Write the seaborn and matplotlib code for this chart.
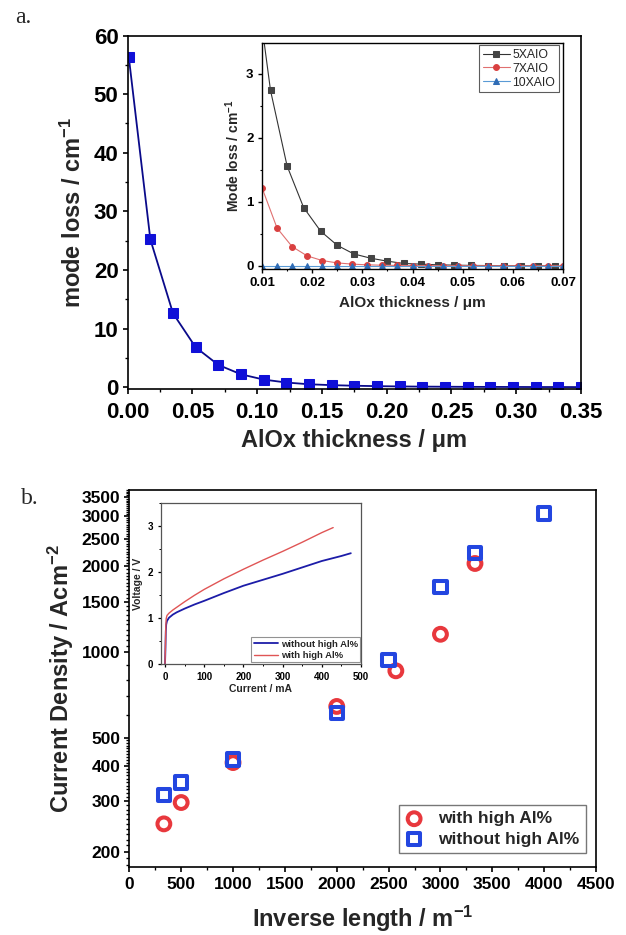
import numpy as np
import pandas as pd
import matplotlib
matplotlib.use("Agg")
import matplotlib.pyplot as plt
from matplotlib.ticker import MultipleLocator, FixedLocator, NullFormatter
import seaborn as sns

# ---- panel a: mode loss vs AlOx thickness ----
thick_main = [0.0008, 0.0175, 0.035, 0.0525, 0.07, 0.0875, 0.105, 0.1225, 0.14, 0.1575,
              0.175, 0.1925, 0.21, 0.2275, 0.245, 0.2625, 0.28, 0.2975, 0.315, 0.3325, 0.35]
loss_main = [56.4, 25.2, 12.6, 6.8, 3.8, 2.2, 1.3, 0.8, 0.5, 0.35,
             0.25, 0.18, 0.13, 0.1, 0.08, 0.06, 0.05, 0.04, 0.03, 0.03, 0.02]

# inset a
thick_5 = [0.0083, 0.0117, 0.015, 0.0183, 0.0217, 0.025, 0.0283, 0.0317, 0.035, 0.0383,
           0.0417, 0.045, 0.0483, 0.0517, 0.055, 0.0583, 0.0617, 0.065, 0.0683]
loss_5 = [4.75, 2.74, 1.56, 0.91, 0.54, 0.32, 0.185, 0.118, 0.072, 0.036,
          0.026, 0.015, 0.01, 0.006, 0.004, 0.003, 0.002, 0.001, 0.001]
thick_7 = [0.01, 0.013, 0.016, 0.019, 0.022, 0.025, 0.028, 0.031, 0.034, 0.037, 0.04,
           0.043, 0.046, 0.049, 0.052, 0.055, 0.058, 0.061, 0.064, 0.067, 0.07]
loss_7 = [1.22, 0.59, 0.30, 0.155, 0.082, 0.045, 0.026, 0.015, 0.009, 0.006, 0.004,
          0.003, 0.002, 0.001, 0.001, 0.0, 0.0, 0.0, 0.0, 0.0, 0.0]
thick_10 = thick_7
loss_10 = [0.0] * 21

# ---- panel b: current density vs inverse length ----
inv_len_with = [333, 500, 1000, 2000, 2570, 3000, 3333]
jd_with = [250, 297, 410, 645, 860, 1155, 2045]
inv_len_without = [333, 500, 1000, 2000, 2500, 3000, 3333, 4000]
jd_without = [316, 349, 420, 610, 940, 1690, 2230, 3060]

# inset b: I-V curves
cur_without = [0, 1, 2, 3, 5, 10, 20, 30, 50, 75, 100, 150, 200, 250, 300, 350, 400, 450, 474]
volt_without = [0, 0.3, 0.7, 0.85, 0.93, 1.0, 1.07, 1.12, 1.2, 1.29, 1.37, 1.54, 1.7,
                1.83, 1.96, 2.1, 2.24, 2.35, 2.41]
cur_with = [0, 1, 2, 3, 5, 10, 20, 30, 50, 75, 100, 150, 200, 250, 300, 350, 400, 429]
volt_with = [0, 0.35, 0.8, 0.98, 1.05, 1.1, 1.17, 1.23, 1.35, 1.49, 1.62, 1.85, 2.06,
             2.26, 2.45, 2.65, 2.86, 2.97]

sns.set_theme(style="ticks")
plt.rcParams["font.family"] = ["Liberation Sans", "DejaVu Sans"]
plt.rcParams["mathtext.fontset"] = "custom"
plt.rcParams["mathtext.rm"] = "Liberation Sans:bold"
plt.rcParams["mathtext.default"] = "rm"
plt.rcParams["axes.edgecolor"] = "black"
plt.rcParams["xtick.color"] = "black"
plt.rcParams["ytick.color"] = "black"

fig = plt.figure(figsize=(6.26, 9.35), dpi=100)


def style_ax(ax, lsize, lw=1.2, major=3.6, minor=2.0, xpad=3):
    for s in ax.spines.values():
        s.set_visible(True)
        s.set_linewidth(lw)
        s.set_color("black")
    ax.tick_params(which="major", direction="out", length=major, width=lw, labelsize=lsize, pad=3)
    ax.tick_params(axis="x", which="major", pad=xpad)
    ax.tick_params(which="minor", direction="out", length=minor, width=lw * 0.8)
    for lab in ax.get_xticklabels() + ax.get_yticklabels():
        lab.set_fontweight("bold")


# ---------------- panel a ----------------
ax1 = fig.add_axes([0.204, 0.584, 0.724, 0.378])
sns.lineplot(x=thick_main, y=loss_main, ax=ax1, color="#0a0a8a", lw=1.3,
             marker="s", markersize=6.5, markerfacecolor="#1010d8", markeredgecolor="#1010d8")
ax1.set_xlim(0, 0.35)
ax1.set_ylim(-0.3, 60)
ax1.xaxis.set_major_locator(MultipleLocator(0.05))
ax1.xaxis.set_minor_locator(MultipleLocator(0.025))
ax1.yaxis.set_major_locator(MultipleLocator(10))
ax1.yaxis.set_minor_locator(MultipleLocator(5))
ax1.set_xticks(np.arange(0, 0.351, 0.05))
ax1.set_xticklabels([f"{v:.2f}" for v in np.arange(0, 0.351, 0.05)])
style_ax(ax1, 16, xpad=6)
ax1.set_xlabel("AlOx thickness / μm", fontsize=17, fontweight="bold", labelpad=4)
ax1.set_ylabel("mode loss / cm$^{-1}$", fontsize=17, fontweight="bold", labelpad=6)

ax1i = fig.add_axes([0.4185, 0.7123, 0.481, 0.2417])
sns.lineplot(x=thick_5, y=loss_5, ax=ax1i, color="#333333", lw=0.8, marker="s",
             markersize=4, markerfacecolor="#444444", markeredgecolor="#444444", label="5XAIO")
sns.lineplot(x=thick_7, y=loss_7, ax=ax1i, color="#e07070", lw=0.8, marker="o",
             markersize=4.2, markerfacecolor="#d94040", markeredgecolor="#d94040", label="7XAIO")
sns.lineplot(x=thick_10, y=loss_10, ax=ax1i, color="#5a9ad5", lw=0.8, marker="^",
             markersize=4.5, markerfacecolor="#2f6cb5", markeredgecolor="#2f6cb5", label="10XAIO")
ax1i.set_xlim(0.01, 0.07)
ax1i.set_ylim(-0.05, 3.48)
ax1i.xaxis.set_major_locator(MultipleLocator(0.01))
ax1i.xaxis.set_minor_locator(MultipleLocator(0.005))
ax1i.yaxis.set_major_locator(MultipleLocator(1))
ax1i.yaxis.set_minor_locator(MultipleLocator(0.5))
ax1i.set_xticks(np.arange(0.01, 0.0701, 0.01))
ax1i.set_xticklabels([f"{v:.2f}" for v in np.arange(0.01, 0.0701, 0.01)])
style_ax(ax1i, 9.5, lw=1.0, major=3, minor=1.6)
ax1i.set_xlabel("AlOx thickness / μm", fontsize=11, fontweight="bold", labelpad=5)
ax1i.set_ylabel("Mode loss / cm$^{-1}$", fontsize=10, fontweight="bold", labelpad=3)
leg = ax1i.legend(loc="upper right", bbox_to_anchor=(0.985, 0.99), fontsize=8.8,
                  frameon=True, fancybox=False, edgecolor="#333333", handlelength=2.2,
                  handletextpad=0.2, borderpad=0.3, labelspacing=0.15, borderaxespad=0)
leg.get_frame().set_linewidth(0.8)

# ---------------- panel b ----------------
ax2 = fig.add_axes([0.2066, 0.0731, 0.7455, 0.4028])
sns.scatterplot(x=inv_len_with, y=jd_with, ax=ax2, marker="o", s=85, facecolor="none",
                edgecolor="#e8383d", linewidth=2.9, label="with high Al%", zorder=3)
sns.scatterplot(x=inv_len_without, y=jd_without, ax=ax2, marker="s", s=78, facecolor="none",
                edgecolor="#2346e0", linewidth=2.9, label="without high Al%", zorder=4)
ax2.set_yscale("log")
ax2.set_xlim(0, 4500)
ax2.set_ylim(177, 3700)
major_y = [200, 300, 400, 500, 1000, 1500, 2000, 2500, 3000, 3500]
minor_y = [v for v in list(range(180, 500, 10)) + list(range(500, 1000, 100)) +
           list(range(1000, 3701, 50)) if v not in major_y]
ax2.yaxis.set_major_locator(FixedLocator(major_y))
ax2.yaxis.set_minor_locator(FixedLocator(minor_y))
ax2.yaxis.set_minor_formatter(NullFormatter())
ax2.set_yticklabels([str(v) for v in major_y])
ax2.xaxis.set_major_locator(MultipleLocator(500))
ax2.xaxis.set_minor_locator(MultipleLocator(250))
style_ax(ax2, 12.5, xpad=4)
ax2.set_xlabel("Inverse length / m$^{-1}$", fontsize=17, fontweight="bold", labelpad=8)
ax2.set_ylabel("Current Density / Acm$^{-2}$", fontsize=17, fontweight="bold", labelpad=4)
leg2 = ax2.legend(loc="lower right", bbox_to_anchor=(0.978, 0.037), frameon=True,
                  fancybox=False, edgecolor="#555555", prop={"weight": "bold", "size": 12.5},
                  handlelength=1.0, handletextpad=0.9, borderpad=0.35, labelspacing=0.3,
                  borderaxespad=0)
leg2.get_frame().set_linewidth(1.0)

ax2i = fig.add_axes([0.2567, 0.2898, 0.32, 0.1719])
sns.lineplot(x=cur_without, y=volt_without, ax=ax2i, color="#1c1ca8", lw=1.3,
             label="without high Al%", sort=False)
sns.lineplot(x=cur_with, y=volt_with, ax=ax2i, color="#e05555", lw=1.0,
             label="with high Al%", sort=False)
ax2i.set_xlim(-11, 500)
ax2i.set_ylim(-0.01, 3.5)
ax2i.xaxis.set_major_locator(MultipleLocator(100))
ax2i.xaxis.set_minor_locator(MultipleLocator(50))
ax2i.yaxis.set_major_locator(MultipleLocator(1))
ax2i.yaxis.set_minor_locator(MultipleLocator(0.5))
style_ax(ax2i, 7, lw=0.9, major=2.5, minor=1.4)
for s in ax2i.spines.values():
    s.set_color("#555555")
ax2i.set_xlabel("Current / mA", fontsize=7.5, fontweight="bold", labelpad=2)
ax2i.set_ylabel("Voltage / V", fontsize=7.5, fontweight="bold", labelpad=3)
leg3 = ax2i.legend(loc="lower right", bbox_to_anchor=(0.997, 0.01), frameon=True, fancybox=False,
                   edgecolor="#777777", prop={"weight": "bold", "size": 6.8}, handlelength=2.6,
                   handletextpad=0.3, borderpad=0.25, labelspacing=0.25, borderaxespad=0)
leg3.get_frame().set_linewidth(0.8)

fig.text(0.024, 0.981, "a.", fontsize=17, family=["Liberation Serif", "DejaVu Serif"],
         va="center", ha="left")
fig.text(0.034, 0.467, "b.", fontsize=17, family=["Liberation Serif", "DejaVu Serif"],
         va="center", ha="left")

fig.savefig("out.png", dpi=100, facecolor="white")
